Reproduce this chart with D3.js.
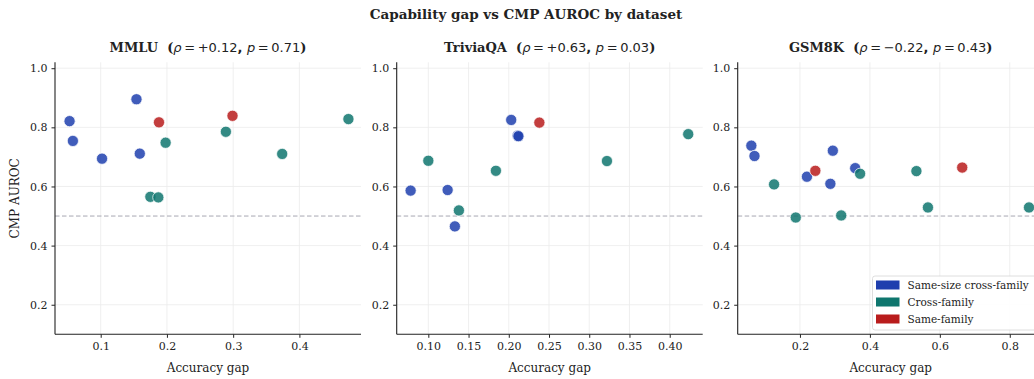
<!DOCTYPE html>
<html>
<head>
<meta charset="utf-8">
<script src="https://cdn.jsdelivr.net/npm/d3@7"></script>
<style>
body { margin: 0; background: #fff; }
svg { display: block; }
text { font-family: "DejaVu Serif", serif; fill: #222; }
</style>
</head>
<body>
<svg width="1034" height="379"></svg>
<script>
// ============ DATA ============
var groups = ["Same-size cross-family", "Cross-family", "Same-family"];
var groupColors = ["#1f3fae", "#0f766e", "#b91c1c"];

var datasets = ["MMLU", "TriviaQA", "GSM8K"];
var rhoText = ["+0.12", "+0.63", "\u22120.22"];
var pText = ["0.71", "0.03", "0.43"];

// accuracy gap, CMP AUROC, group index
var mmluGap   = [0.053, 0.058, 0.102, 0.154, 0.159, 0.188, 0.299, 0.198, 0.289, 0.374, 0.474, 0.175, 0.187];
var mmluAuroc = [0.821, 0.754, 0.694, 0.895, 0.711, 0.817, 0.839, 0.748, 0.785, 0.710, 0.828, 0.565, 0.563];
var mmluGroup = [0, 0, 0, 0, 0, 2, 2, 1, 1, 1, 1, 1, 1];

var triviaGap   = [0.203, 0.211, 0.212, 0.078, 0.124, 0.133, 0.238, 0.100, 0.184, 0.322, 0.423, 0.138];
var triviaAuroc = [0.825, 0.772, 0.770, 0.586, 0.588, 0.465, 0.816, 0.687, 0.653, 0.686, 0.777, 0.519];
var triviaGroup = [0, 0, 0, 0, 0, 0, 2, 1, 1, 1, 1, 1];

var gsmGap   = [0.061, 0.070, 0.220, 0.294, 0.287, 0.358, 0.244, 0.664, 0.126, 0.188, 0.318, 0.372, 0.533, 0.566, 0.855];
var gsmAuroc = [0.738, 0.703, 0.633, 0.721, 0.609, 0.662, 0.653, 0.664, 0.607, 0.495, 0.502, 0.643, 0.652, 0.529, 0.529];
var gsmGroup = [0, 0, 0, 0, 0, 0, 2, 2, 1, 1, 1, 1, 1, 1, 1];

var xDomains = [[0.031, 0.493], [0.0607, 0.441], [0.022, 0.897]];
var xTicks = [[0.1, 0.2, 0.3, 0.4], [0.10, 0.15, 0.20, 0.25, 0.30, 0.35, 0.40], [0.2, 0.4, 0.6, 0.8]];
var xFormats = [".1f", ".2f", ".1f"];
var yTicks = [0.2, 0.4, 0.6, 0.8, 1.0];

// ============ LAYOUT ============
var panelLeft = [55, 396.7, 737.7];
var panelW = 306;
var plotTop = 62.3, plotBottom = 334.3;

var svg = d3.select("svg");

svg.append("text")
    .attr("x", 526).attr("y", 19)
    .attr("text-anchor", "middle")
    .style("font-weight", "bold").style("font-size", "13.5px")
    .text("Capability gap vs CMP AUROC by dataset");

var allData = [
    d3.range(mmluGap.length).map(i => ({gap: mmluGap[i], auroc: mmluAuroc[i], g: mmluGroup[i]})),
    d3.range(triviaGap.length).map(i => ({gap: triviaGap[i], auroc: triviaAuroc[i], g: triviaGroup[i]})),
    d3.range(gsmGap.length).map(i => ({gap: gsmGap[i], auroc: gsmAuroc[i], g: gsmGroup[i]}))
];

var ys = d3.scaleLinear().domain([0.1, 1.02]).range([plotBottom, plotTop]);

datasets.forEach(function(name, k) {
    var x0 = panelLeft[k];
    var xs = d3.scaleLinear().domain(xDomains[k]).range([x0, x0 + panelW]);
    var g = svg.append("g");

    // grid
    g.selectAll(".gx").data(xTicks[k]).enter().append("line")
        .attr("x1", d => xs(d)).attr("x2", d => xs(d))
        .attr("y1", plotTop).attr("y2", plotBottom)
        .attr("stroke", "#ebebeb").attr("stroke-width", 0.8);
    g.selectAll(".gy").data(yTicks).enter().append("line")
        .attr("x1", x0).attr("x2", x0 + panelW)
        .attr("y1", d => ys(d)).attr("y2", d => ys(d))
        .attr("stroke", "#ebebeb").attr("stroke-width", 0.8);

    // chance line
    g.append("line")
        .attr("x1", x0).attr("x2", x0 + panelW)
        .attr("y1", ys(0.5)).attr("y2", ys(0.5))
        .attr("stroke", "#a7a7b2").attr("stroke-width", 1)
        .attr("stroke-dasharray", "4.5,2.5");

    // points
    g.selectAll("circle").data(allData[k]).enter().append("circle")
        .attr("cx", d => xs(d.gap))
        .attr("cy", d => ys(d.auroc))
        .attr("r", 5.6)
        .attr("fill", d => groupColors[d.g])
        .attr("fill-opacity", 0.85)
        .attr("stroke", "#fff").attr("stroke-opacity", 0.8).attr("stroke-width", 0.9);

    // axes
    var ax = g.append("g")
        .attr("transform", "translate(0," + plotBottom + ")")
        .call(d3.axisBottom(xs).tickValues(xTicks[k]).tickFormat(d3.format(xFormats[k])).tickSize(3.5).tickPadding(4));
    var ay = g.append("g")
        .attr("transform", "translate(" + x0 + ",0)")
        .call(d3.axisLeft(ys).tickValues(yTicks).tickFormat(d3.format(".1f")).tickSize(3.5).tickPadding(4));
    [ax, ay].forEach(function(a) {
        a.selectAll("text").style("font-family", "DejaVu Serif").style("font-size", "11px").attr("fill", "#222");
        a.selectAll("line").attr("stroke", "#222");
        a.select(".domain").attr("stroke", "#222").attr("stroke-width", 1.1);
    });
    // domain paths without end ticks
    ax.select(".domain").attr("d", "M" + x0 + ",0H" + (x0 + panelW));
    ay.select(".domain").attr("d", "M0," + plotTop + "V" + plotBottom);

    g.append("text")
        .attr("x", x0 + panelW / 2).attr("y", 372)
        .attr("text-anchor", "middle").style("font-size", "12px")
        .text("Accuracy gap");

    // panel title
    var t = g.append("text")
        .attr("x", x0 + panelW / 2).attr("y", 52)
        .attr("text-anchor", "middle").style("font-size", "13px");
    t.append("tspan").style("font-weight", "bold").text(name + "\u00a0\u00a0(");
    var sans = "DejaVu Sans";
    t.append("tspan").style("font-family", sans).style("font-style", "italic").text("\u03c1");
    t.append("tspan").style("font-family", sans).text("\u2009=\u2009" + rhoText[k]);
    t.append("tspan").style("font-family", sans).style("font-weight", "bold").text(", ");
    t.append("tspan").style("font-family", sans).style("font-style", "italic").text("p");
    t.append("tspan").style("font-family", sans).text("\u2009=\u2009" + pText[k]);
    t.append("tspan").style("font-weight", "bold").text(")");
});

svg.append("text")
    .attr("transform", "translate(19," + ((plotTop + plotBottom) / 2) + ") rotate(-90)")
    .attr("text-anchor", "middle").style("font-size", "12px")
    .text("CMP AUROC");

// legend
var lg = svg.append("g").attr("transform", "translate(872.5,276)");
lg.append("rect")
    .attr("width", 180).attr("height", 54).attr("rx", 2.5)
    .attr("fill", "#fff").attr("fill-opacity", 0.9)
    .attr("stroke", "#d5d5d5").attr("stroke-width", 0.8);
groups.forEach(function(name, i) {
    lg.append("rect")
        .attr("x", 3.5).attr("y", 4.5 + i * 17)
        .attr("width", 23.5).attr("height", 9)
        .attr("fill", groupColors[i]);
    lg.append("text")
        .attr("x", 35).attr("y", 12.5 + i * 17)
        .style("font-size", "10.5px")
        .text(name);
});
</script>
</body>
</html>
